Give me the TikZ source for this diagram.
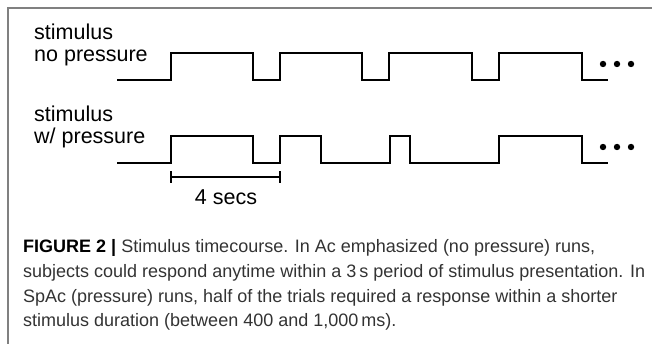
\documentclass[tikz,border=0pt]{standalone}
\usepackage{fontspec}
\setmainfont{Liberation Sans}
\begin{document}
\begin{tikzpicture}[x=1pt,y=-1pt,
  wave/.style={line width=2pt, line join=miter, line cap=butt},
  lab/.style={font=\fontsize{21.5}{22}\selectfont, inner sep=0pt, anchor=base west},
  captext/.style={font=\fontsize{18}{24}\selectfont, inner sep=0pt, anchor=base west, text=black!80},
  framestyle/.style={draw=black!50, line width=1.5pt}]
\useasboundingbox (0,0) rectangle (652,344);
% frame
\draw[framestyle] (652,8) -- (8,8) -- (8,344);
% labels
\node[lab] (s1) at (34,40) {stimulus};
\node[lab] (np) at (34,62) {no pressure};
\node[lab] (s2) at (34,122) {stimulus};
\node[lab] (wp) at (34,144) {w/ pressure};
% waveform without pressure
\draw[wave] (117,80) -- (171,80) -- (171,53) -- (253,53) -- (253,80) -- (280,80) -- (280,53)
  -- (362,53) -- (362,80) -- (389,80) -- (389,53) -- (472,53) -- (472,80) -- (499,80)
  -- (499,53) -- (582,53) -- (582,80) -- (608,80);
% waveform with pressure
\draw[wave] (117,163) -- (171,163) -- (171,136) -- (253,136) -- (253,163) -- (280,163) -- (280,136)
  -- (321,136) -- (321,163) -- (390,163) -- (390,136) -- (410,136) -- (410,163) -- (499,163)
  -- (499,136) -- (582,136) -- (582,163) -- (608,163);
% dots
\foreach \px in {603,617,631}{
  \fill (\px,64) circle (3.2pt);
  \fill (\px,147) circle (3.2pt);
}
% scale bar
\coordinate (b1) at (171,177);
\coordinate (b2) at (280,177);
\draw[line width=2pt] (b1) -- (b2);
\draw[line width=2pt] ([yshift=-6pt]b1) -- ([yshift=6pt]b1);
\draw[line width=2pt] ([yshift=-6pt]b2) -- ([yshift=6pt]b2);
\node[lab, anchor=base] (secs) at (226,205) {4 secs};
% caption
\node[captext] (c1) at (23,253) {{\color{black}\textbf{FIGURE 2 |}} Stimulus timecourse. In Ac emphasized (no pressure) runs,};
\node[captext] (c2) at (23,277) {subjects could respond anytime within a 3\,s period of stimulus presentation. In};
\node[captext] (c3) at (23,302) {SpAc (pressure) runs, half of the trials required a response within a shorter};
\node[captext] (c4) at (23,326) {stimulus duration (between 400 and 1,000\,ms).};
\end{tikzpicture}
\end{document}
